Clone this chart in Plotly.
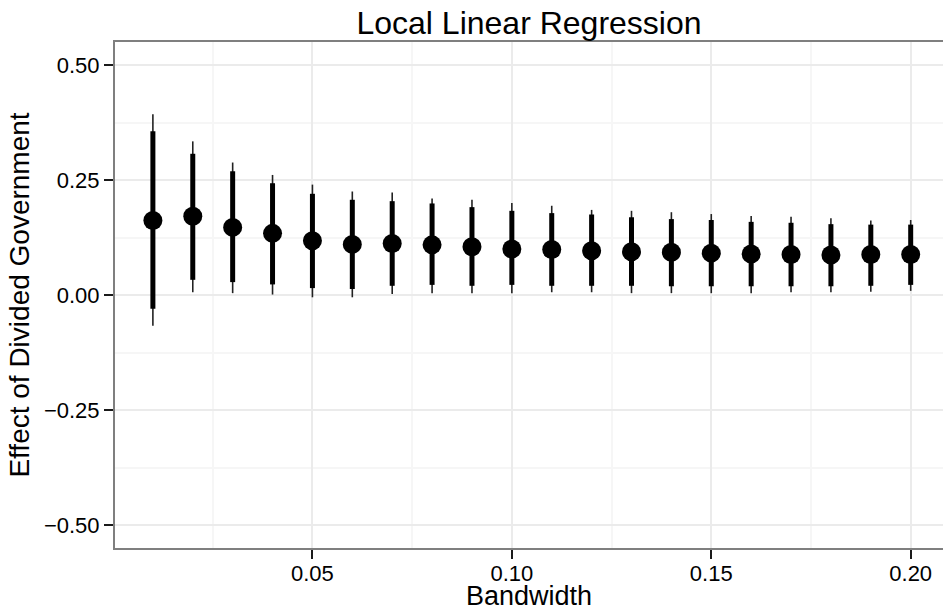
import plotly.graph_objects as go

# Local linear regression estimates by bandwidth, with 90% and 95% intervals
bandwidth = [0.01, 0.02, 0.03, 0.04, 0.05, 0.06, 0.07, 0.08, 0.09, 0.10,
             0.11, 0.12, 0.13, 0.14, 0.15, 0.16, 0.17, 0.18, 0.19, 0.20]
estimate = [0.162, 0.171, 0.147, 0.134, 0.118, 0.110, 0.112, 0.109, 0.105, 0.100,
            0.099, 0.096, 0.094, 0.093, 0.091, 0.089, 0.088, 0.087, 0.088, 0.088]
lo90 = [-0.030, 0.033, 0.028, 0.023, 0.015, 0.013, 0.020, 0.022, 0.020, 0.022,
        0.020, 0.020, 0.020, 0.019, 0.019, 0.019, 0.019, 0.019, 0.020, 0.022]
hi90 = [0.356, 0.307, 0.269, 0.243, 0.220, 0.207, 0.204, 0.199, 0.191, 0.183,
        0.178, 0.175, 0.169, 0.165, 0.163, 0.159, 0.157, 0.154, 0.153, 0.153]
lo95 = [-0.067, 0.006, 0.004, 0.001, -0.005, -0.005, 0.002, 0.004, 0.004, 0.004,
        0.006, 0.006, 0.004, 0.004, 0.004, 0.004, 0.006, 0.006, 0.007, 0.009]
hi95 = [0.393, 0.334, 0.288, 0.261, 0.240, 0.225, 0.223, 0.210, 0.207, 0.200,
        0.194, 0.185, 0.183, 0.180, 0.176, 0.172, 0.170, 0.167, 0.162, 0.163]


def segments(xs, los, his):
    sx, sy = [], []
    for x, lo, hi in zip(xs, los, his):
        sx += [x, x, None]
        sy += [lo, hi, None]
    return sx, sy


x95, y95 = segments(bandwidth, lo95, hi95)
x90, y90 = segments(bandwidth, lo90, hi90)

FONT = "Liberation Sans, Arial, Helvetica, sans-serif"

fig = go.Figure()
fig.add_trace(go.Scatter(x=x95, y=y95, mode='lines', line=dict(color='#222222', width=1.6),
                         hoverinfo='skip', showlegend=False))
fig.add_trace(go.Scatter(x=x90, y=y90, mode='lines', line=dict(color='black', width=5),
                         hoverinfo='skip', showlegend=False))
fig.add_trace(go.Scatter(x=bandwidth, y=estimate, mode='markers',
                         marker=dict(color='black', size=19), showlegend=False))

# dotted reference line at zero
fig.add_hline(y=0, line=dict(color='#9a9a9a', width=2, dash='2px,7px'), layer='below')

# x-axis title placed as an annotation so it sits snugly under the tick labels
fig.add_annotation(text='Bandwidth', xref='paper', yref='paper', x=0.5, y=-0.095,
                   xanchor='center', yanchor='middle', showarrow=False,
                   font=dict(size=27, color='black'))

fig.update_layout(
    width=943, height=611,
    margin=dict(l=115, r=0, t=42, b=63),
    plot_bgcolor='white', paper_bgcolor='white',
    font=dict(family=FONT, color='black'),
    title=dict(text='Local Linear Regression', x=0.5, xref='paper', xanchor='center',
               yref='container', y=1 - 23 / 611, yanchor='middle',
               font=dict(size=32, color='black')),
    xaxis=dict(
        range=[0.0005, 0.2081], tick0=0, dtick=0.05, tickformat='.2f',
        ticks='outside', ticklen=9, tickwidth=2, tickcolor='#1a1a1a',
        tickfont=dict(size=22), ticklabelstandoff=-4,
        showline=True, mirror=True, linecolor='#7f7f7f', linewidth=2,
        showgrid=True, gridcolor='#ebebeb', gridwidth=1.5, zeroline=False,
        minor=dict(dtick=0.025, tick0=0, showgrid=True, gridcolor='#f6f6f6', gridwidth=1.5),
    ),
    yaxis=dict(
        range=[-0.55, 0.55], tick0=0, dtick=0.25, tickformat='.2f',
        ticks='outside', ticklen=9, tickwidth=2, tickcolor='#1a1a1a',
        tickfont=dict(size=22), showline=True, mirror=False, linecolor='#7f7f7f', linewidth=2,
        showgrid=True, gridcolor='#ebebeb', gridwidth=1.5, zeroline=False,
        minor=dict(dtick=0.125, tick0=0, showgrid=True, gridcolor='#f6f6f6', gridwidth=1.5),
        title=dict(text='Effect of Divided Government', font=dict(size=28), standoff=6),
    ),
)

# drop the browser's default body margin so the figure sits at the window's corner
fig.write_html("out.html", config={'displayModeBar': False},
               post_script="document.body.style.margin='0';")
